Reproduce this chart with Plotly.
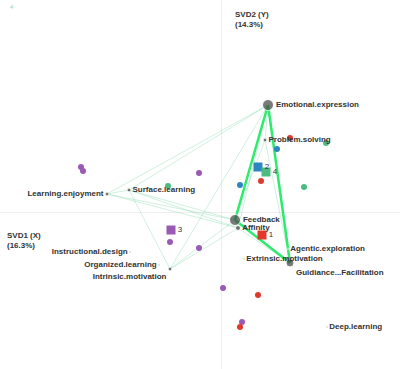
import plotly.graph_objects as go

# ---- network nodes (SVD scores) ----
node_names = ["Emotional.expression", "Problem.solving", "Learning.enjoyment", "Surface.learning",
              "Feedback", "Affinity", "Agentic.exploration", "Extrinsic.motivation",
              "Guidiance...Facilitation", "Instructional.design", "Organized.learning",
              "Intrinsic.motivation", "Deep.learning"]
node_x = [0.47, 0.44, -1.14, -0.92, 0.14, 0.17, 0.67, 0.23, 0.69, -0.91, -0.62, -0.51, 1.06]
node_y = [1.07, 0.72, 0.18, 0.22, -0.08, -0.16, -0.37, -0.47, -0.51, -0.40, -0.53, -0.57, -1.15]
node_size = [11, 4, 4, 4, 11, 5, 2, 2, 8, 2, 2, 4, 2]
node_textpos = ["middle right", "middle right", "middle left", "middle right",
                "middle right", "middle right", "middle right", "middle right",
                "bottom right", "middle left", "middle left", "bottom left", "middle right"]

# ---- edges ----
strong_edges = [("Emotional.expression", "Feedback"),
                ("Emotional.expression", "Guidiance...Facilitation"),
                ("Feedback", "Guidiance...Facilitation")]
weak_edges = [("Learning.enjoyment", "Emotional.expression"),
              ("Learning.enjoyment", "Feedback"),
              ("Learning.enjoyment", "Affinity"),
              ("Learning.enjoyment", "Surface.learning"),
              ("Surface.learning", "Emotional.expression"),
              ("Surface.learning", "Feedback"),
              ("Surface.learning", "Affinity"),
              ("Surface.learning", "Intrinsic.motivation"),
              ("Intrinsic.motivation", "Feedback"),
              ("Intrinsic.motivation", "Affinity"),
              ("Intrinsic.motivation", "Emotional.expression"),
              ("Emotional.expression", "Affinity"),
              ("Problem.solving", "Feedback"),
              ("Problem.solving", "Guidiance...Facilitation"),
              ("Emotional.expression", "Problem.solving"),
              ("Feedback", "Affinity"),
              ("Affinity", "Guidiance...Facilitation")]

# ---- person points by cluster ----
purple_x = [-1.40, -1.38, -0.22, -0.51, -0.22, 0.02, 0.21]
purple_y = [0.45, 0.41, 0.39, -0.30, -0.36, -0.76, -1.10]
red_x = [0.69, 0.40, 0.37, 0.19]
red_y = [0.74, 0.31, -0.83, -1.15]
blue_x = [0.56, 0.19]
blue_y = [0.63, 0.27]
green_x = [1.05, 0.83, -0.53, 0.68]
green_y = [0.69, 0.25, 0.26, -0.48]

# ---- cluster centroids ----
cent_labels = ["1", "2", "3", "4"]
cent_x = [0.41, 0.37, -0.50, 0.45]
cent_y = [-0.23, 0.45, -0.18, 0.40]
cent_colors = ["#e0392b", "#2e86c1", "#9b59b6", "#4cbb7f"]

pos = {n: (x, y) for n, x, y in zip(node_names, node_x, node_y)}


def edge_xy(edges):
    xs, ys = [], []
    for a, b in edges:
        xs += [pos[a][0], pos[b][0], None]
        ys += [pos[a][1], pos[b][1], None]
    return xs, ys


fig = go.Figure()

wx, wy = edge_xy(weak_edges)
fig.add_trace(go.Scatter(x=wx, y=wy, mode="lines",
                         line=dict(color="rgba(80,200,140,0.35)", width=0.8),
                         hoverinfo="skip", showlegend=False))
sx, sy = edge_xy(strong_edges)
fig.add_trace(go.Scatter(x=sx, y=sy, mode="lines",
                         line=dict(color="#2eea6e", width=2.5),
                         hoverinfo="skip", showlegend=False))

for xs, ys, col in [(purple_x, purple_y, "#9b59b6"), (red_x, red_y, "#e0392b"),
                    (blue_x, blue_y, "#2e86c1"), (green_x, green_y, "#4cbb7f")]:
    fig.add_trace(go.Scatter(x=xs, y=ys, mode="markers",
                             marker=dict(size=6, color=col), showlegend=False))

fig.add_trace(go.Scatter(x=cent_x, y=cent_y, mode="markers+text", text=cent_labels,
                         textposition="middle right",
                         textfont=dict(family="Liberation Sans, Arial", size=8, color="#333"),
                         marker=dict(symbol="square", size=9, color=cent_colors),
                         showlegend=False))

fig.add_trace(go.Scatter(x=node_x, y=node_y, mode="markers+text", text=node_names,
                         textposition=node_textpos,
                         textfont=dict(family="Liberation Sans, Arial", size=8, color="#333",
                                       weight="bold"),
                         marker=dict(size=node_size, color="#444"),
                         showlegend=False))

fig.add_annotation(x=0, y=1, xref="paper", yref="paper", xanchor="left", yanchor="top",
                   xshift=8, yshift=-2, text="4", showarrow=False,
                   font=dict(family="Liberation Sans, Arial", size=6, color="#8fd9a8"))
fig.add_annotation(x=0.12, y=2.04, xanchor="left", yanchor="top", align="left",
                   text="SVD2 (Y)<br>(14.3%)", showarrow=False,
                   font=dict(family="Liberation Sans, Arial", size=8, color="#333", weight="bold"))
fig.add_annotation(x=-2.16, y=-0.17, xanchor="left", yanchor="top", align="left",
                   text="SVD1 (X)<br>(16.3%)", showarrow=False,
                   font=dict(family="Liberation Sans, Arial", size=8, color="#333", weight="bold"))

axis = dict(showgrid=False, showticklabels=False, ticks="", zeroline=True,
            zerolinecolor="#eeeeee", zerolinewidth=1, showline=False)
fig.update_layout(width=400, height=369, margin=dict(l=0, r=0, t=0, b=0),
                  paper_bgcolor="white", plot_bgcolor="white",
                  xaxis=dict(range=[-2.21, 1.79], **axis),
                  yaxis=dict(range=[-1.57, 2.12], **axis))

fig.write_html("out.html")
